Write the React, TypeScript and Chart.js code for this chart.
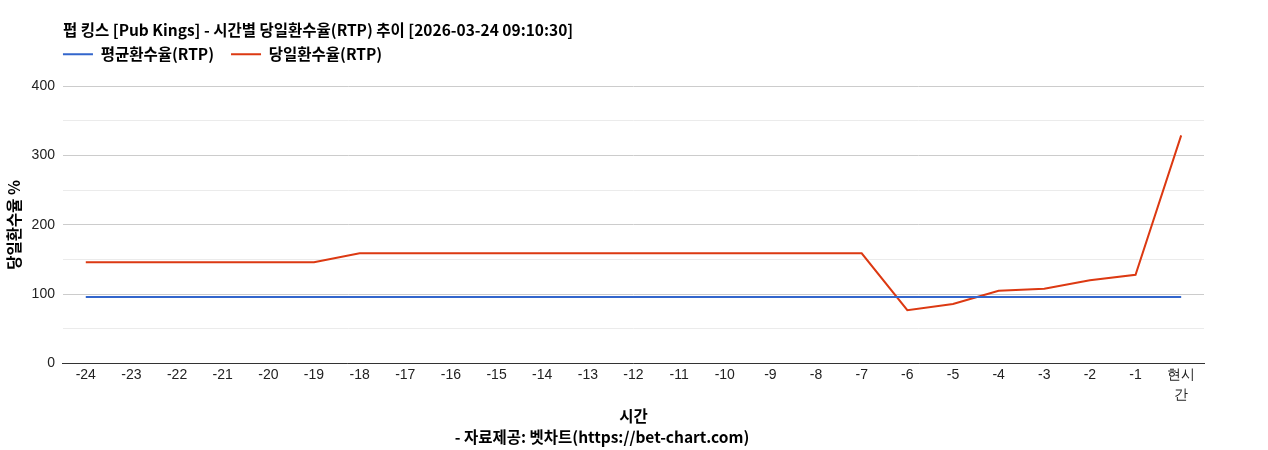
import { useEffect, useRef } from "react";
import Chart from "chart.js/auto";

/* ================= DATA ================= */

const hours = [
  "-24", "-23", "-22", "-21", "-20", "-19", "-18", "-17", "-16", "-15",
  "-14", "-13", "-12", "-11", "-10", "-9", "-8", "-7", "-6", "-5",
  "-4", "-3", "-2", "-1", "현시간",
];

const avgRtp = [
  96, 96, 96, 96, 96, 96, 96, 96, 96, 96, 96, 96, 96, 96, 96, 96, 96, 96,
  96, 96, 96, 96, 96, 96, 96,
];

const dailyRtp = [
  146, 146, 146, 146, 146, 146, 159, 159, 159, 159, 159, 159, 159, 159, 159,
  159, 159, 159, 77, 86, 105, 108, 120, 128, 329,
];

const yTicks = [0, 100, 200, 300, 400];

const TITLE = "펍 킹스 [Pub Kings] - 시간별 당일환수율(RTP) 추이 [2026-03-24 09:10:30]";
const FOOTER = "- 자료제공: 벳차트(https://bet-chart.com)";

const KR = "'Noto Sans CJK KR', 'Noto Sans', sans-serif";
const NUM = "'Liberation Sans', Arial, sans-serif";

const LEGEND_PAD = 17;

/* nudge the legend so its first item sits on the plot's left edge */
const legendNudge = {
  id: "legendNudge",
  afterLayout(chart: Chart) {
    const lg: any = chart.legend;
    if (!lg) return;
    lg.left -= LEGEND_PAD;
    lg.right -= LEGEND_PAD;
    lg.top -= 14;
    lg.bottom -= 14;
  },
};

export default function App() {
  const canvasRef = useRef<HTMLCanvasElement>(null);

  useEffect(() => {
    document.body.style.margin = "0";
    if (!canvasRef.current) return;

    const chart = new Chart(canvasRef.current, {
      type: "line",
      data: {
        labels: hours,
        datasets: [
          {
            label: "평균환수율(RTP)",
            data: avgRtp,
            borderColor: "#3366cc",
            backgroundColor: "#3366cc",
            borderWidth: 2,
            pointRadius: 0,
            tension: 0,
          },
          {
            label: "당일환수율(RTP)",
            data: dailyRtp,
            borderColor: "#dc3912",
            backgroundColor: "#dc3912",
            borderWidth: 2,
            pointRadius: 0,
            tension: 0,
          },
        ],
      },
      plugins: [legendNudge],
      options: {
        animation: false,
        responsive: false,
        layout: { padding: { top: 0, left: 0, right: 64, bottom: 4 } },
        plugins: {
          tooltip: { enabled: false },
          title: {
            display: true,
            text: TITLE,
            align: "start",
            fullSize: false,
            color: "#000",
            font: { family: KR, size: 15.5, weight: "bold" },
            padding: { top: 21, bottom: 4 },
          },
          subtitle: {
            display: true,
            text: FOOTER,
            position: "bottom",
            color: "#000",
            font: { family: KR, size: 15.5, weight: "bold" },
            padding: { top: 2, bottom: 0 },
          },
          legend: {
            align: "start",
            fullSize: false,
            labels: {
              color: "#000",
              boxWidth: 30,
              boxHeight: 2,
              padding: LEGEND_PAD,
              font: { family: KR, size: 15.5, weight: "bold" },
              generateLabels: (c) =>
                Chart.defaults.plugins.legend.labels
                  .generateLabels(c)
                  .map((l) => ({ ...l, lineWidth: 0 })),
            },
          },
        },
        scales: {
          x: {
            offset: true,
            grid: { display: false, drawTicks: false },
            border: { display: true, color: "#333" },
            ticks: {
              color: "#222",
              autoSkip: false,
              maxRotation: 0,
              padding: 2,
              font: { family: NUM, size: 14, lineHeight: 1.4 },
              callback: (_v, i) =>
                hours[i].startsWith("-") ? hours[i] : [hours[i].slice(0, 2), hours[i].slice(2)],
            },
            title: {
              display: true,
              text: "시간",
              color: "#000",
              font: { family: KR, size: 15.5, weight: "bold" },
              padding: { top: 0, bottom: 0 },
            },
          },
          y: {
            min: 0,
            max: 400,
            border: { display: false },
            grid: {
              drawTicks: false,
              color: (ctx) =>
                yTicks.includes(ctx.tick.value) ? "#cccccc" : "#ebebeb",
            },
            ticks: {
              stepSize: 50,
              padding: 8,
              color: "#222",
              font: { family: NUM, size: 14 },
              callback: (v) => (yTicks.includes(Number(v)) ? String(v) : ""),
            },
            title: {
              display: true,
              text: "당일환수율 %",
              color: "#000",
              font: { family: KR, size: 15.5, weight: "bold" },
              padding: { top: 5, bottom: 0 },
            },
          },
        },
      },
    });

    return () => chart.destroy();
  }, []);

  return (
    <div style={{ width: 1268, height: 450 }}>
      <canvas ref={canvasRef} width={1268} height={450} />
    </div>
  );
}
